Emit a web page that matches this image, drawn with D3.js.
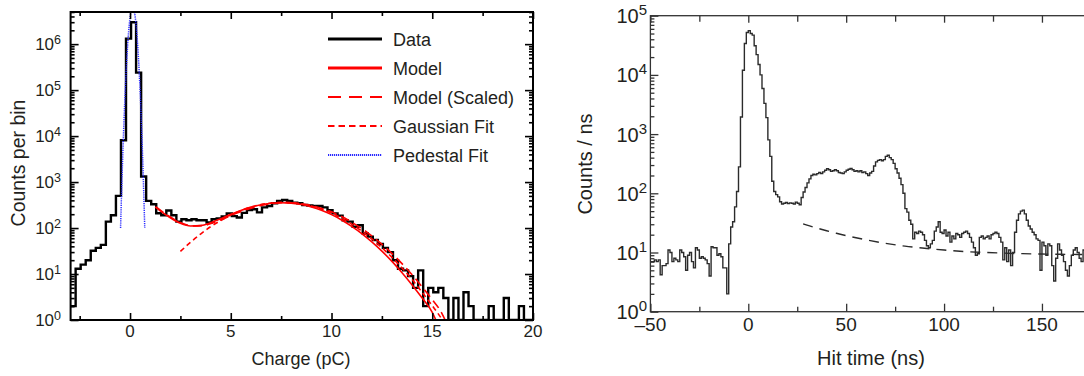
<!DOCTYPE html>
<html>
<head>
<meta charset="utf-8">
<title>Charge spectrum and hit time</title>
<script src="https://d3js.org/d3.v7.min.js"></script>
<style>
  body { margin: 0; background: #fff; }
  text { font-family: "Liberation Sans", Arial, sans-serif; fill: #231f20; }
</style>
</head>
<body>
<svg width="1084" height="376"></svg>
<script>
// ---- left panel: charge histogram (0.25 pC bins from -2.95 pC) ----
var chargeStart = -2.95, chargeBin = 0.25;
var chargeCounts = [2, 13, 16, 20, 32, 37, 43, 138, 190, 500,
  8100, 1320000, 3000000, 240000, 1320, 390, 330, 210, 190, 240,
  190, 138, 155, 148, 155, 148, 148, 132, 155, 162,
  178, 209, 182, 170, 214, 245, 257, 219, 282, 302,
  347, 389, 407, 389, 355, 347, 316, 309, 302, 302,
  282, 245, 209, 186, 148, 138, 107, 115, 76, 65,
  55, 45, 37, 30, 20, 13, 12, 9, 5, 12,
  2, 5, 4, 5, 3, 0, 3, 0, 4, 2,
  0, 0, 0, 2, 0, 0, 3, 0, 0, 2,
  0, 0];

var modelX = [1.25, 1.5, 2, 2.5, 3, 3.5, 4, 4.5, 5, 5.5, 6, 6.5, 7, 7.5, 8, 8.5, 9, 9.5,
  10, 10.5, 11, 11.5, 12, 12.5, 13, 13.5, 14, 14.5, 15, 15.5];
var modelY = [287, 236, 167, 127, 111, 113, 130, 160, 199, 242, 285, 322, 346, 356, 349, 324, 288, 244,
  196, 150, 109, 76, 50, 31.5, 18.8, 10.7, 5.8, 3.0, 1.47, 0.45];

var scaledX = [1.29, 1.55, 2.06, 2.58, 3.09, 3.61, 4.12, 4.64, 5.15, 5.67, 6.18, 6.7, 7.21, 7.73, 8.24, 8.76, 9.27, 9.79,
  10.3, 10.82, 11.33, 11.85, 12.36, 12.88, 13.39, 13.91, 14.42, 14.94, 15.45, 15.97];
var scaledY = [287, 236, 167, 127, 111, 113, 130, 160, 199, 242, 285, 322, 346, 356, 349, 324, 288, 244,
  196, 150, 109, 76, 50, 31.5, 18.8, 10.7, 5.8, 3.0, 1.47, 0.45];

var gaussX = [2.5, 3, 3.5, 4, 4.5, 5, 5.5, 6, 6.5, 7, 7.5, 8, 8.5, 9, 9.5, 10, 10.5, 11, 11.5,
  12, 12.5, 13, 13.5, 14, 14.5, 15, 15.5, 16];
var gaussY = [31, 49, 74, 107, 146, 191, 239, 285, 324, 351, 363, 357, 337, 302, 258, 211, 164, 122, 86,
  58, 37.5, 23, 13.5, 7.6, 4.0, 2.05, 1.0, 0.4];

var pedX = [-0.47, -0.42, -0.37, -0.32, -0.27, -0.22, -0.17, -0.12, -0.07, -0.02, 0.03, 0.08, 0.13,
  0.18, 0.23, 0.28, 0.33, 0.38, 0.43, 0.48, 0.53, 0.58, 0.63, 0.68, 0.73];
var pedY = [100, 589, 2950, 12600, 46800, 148000, 398000, 933000, 1860000, 3160000, 4680000, 5890000, 6310000,
  5890000, 4680000, 3160000, 1860000, 933000, 398000, 148000, 46800, 12600, 2950, 589, 100];

var chargeTicks = [0, 5, 10, 15, 20];
var chargeMinor = [-2.5, 2.5, 7.5, 12.5, 17.5];
var chargeExps = [0, 1, 2, 3, 4, 5, 6];
var legendNames = ["Data", "Model", "Model (Scaled)", "Gaussian Fit", "Pedestal Fit"];

// ---- right panel: hit time histogram (1 ns bins from -50 ns) ----
var timeStart = -50, timeBin = 1;
var timeCounts = [
  7, 7, 7.5, 7, 7.5, 4.2, 6, 6, 6.5, 11, 10, 7, 8, 7.5, 7, 11, 10, 8.5, 5, 9,
  10, 7, 5.5, 12, 11, 8, 8.5, 8, 7.5, 6.5, 4, 12.5, 12, 12, 9, 9.5, 8.5, 5.5, 5.5, 2,
  14, 27, 33, 59, 107, 280, 1950, 12000, 34000, 52000,
  56000, 50000, 47000, 31000, 22000, 15000, 10000, 5900, 3300, 1900, 800, 420, 160, 107, 95, 87, 72,
  66, 68, 70, 67, 69, 68, 66, 71, 68, 64,
  85, 105, 125, 150, 175, 200, 210, 205, 215, 225, 215, 230, 245, 260, 250, 235, 240, 250, 240, 225,
  220, 215, 230, 245, 255, 262, 250, 235, 240, 230, 240, 225, 230, 215, 200, 220, 235,
  290, 340, 360, 370, 355, 370, 420, 440, 400, 370, 320, 260, 220, 180, 140, 100, 55, 48, 35, 30,
  17, 22, 21, 23, 22, 20, 16, 13, 12, 14, 16, 23, 27, 33, 22, 21, 24, 19, 22, 15,
  19, 17, 21, 20, 18, 21, 22, 23, 21, 18, 15, 12, 9, 9.5, 18, 19, 17, 18, 19, 17,
  20, 21, 22, 21, 18, 15,
  7.5, 12, 7, 11, 6, 10, 22, 35, 45, 50, 52, 45, 35, 28, 25, 22, 20, 17, 16, 5,
  15, 13, 9, 14, 13, 6, 3.3, 8, 14, 11, 9, 7, 5, 4, 6, 9, 11, 12, 10, 8,
  7, 11, 12, 9, 8];

var bgX = [28, 30, 35, 40, 45, 50, 60, 70, 80, 90, 100, 110, 120, 130, 140, 150, 160, 170, 176];
var bgY = [30.5, 29, 25.9, 23.3, 21.1, 19.3, 16.4, 14.3, 12.8, 11.8, 11.0, 10.4, 10.05, 9.77, 9.57, 9.42, 9.32, 9.25, 9.2];

var timeTicks = [-50, 0, 50, 100, 150];
var timeMinor = [-25, 25, 75, 125, 175];
var timeExps = [0, 1, 2, 3, 4, 5];

var svg = d3.select("svg");

function histPoints(start, bin, counts) {
  var pts = counts.map(function (c, i) { return [start + i * bin, c]; });
  pts.push([start + counts.length * bin, counts[counts.length - 1]]);
  return pts;
}

function zip(xs, ys) {
  return xs.map(function (x, i) { return [x, ys[i]]; });
}

function isDecade(v) {
  var l = Math.log10(v);
  return Math.abs(l - Math.round(l)) < 1e-6;
}

// draws inward ticks on all requested sides
function ticks(g, axis, scale, values, size, transform) {
  g.append("g")
    .attr("transform", transform)
    .call(axis(scale).tickValues(values).tickSize(-size).tickFormat(""))
    .call(function (s) { s.select(".domain").remove(); });
}

function powerLabels(g, yScale, exps, x, size, supSize, dy, supDy) {
  g.selectAll("text.pow")
    .data(exps)
    .join("text")
    .attr("class", "pow")
    .attr("x", x)
    .attr("y", function (d) { return yScale(Math.pow(10, d)) + dy; })
    .attr("text-anchor", "end")
    .style("font-size", size + "px")
    .each(function (d) {
      var t = d3.select(this);
      t.append("tspan").text("10");
      t.append("tspan").attr("dy", -supDy).style("font-size", supSize + "px").text(d);
    });
}

// ================= left panel =================
var L = { x0: 70.6, x1: 533, y0: 12, y1: 320 };
var xL = d3.scaleLinear().domain([-2.95, 20]).range([L.x0, L.x1]);
var yL = d3.scaleLog().domain([1, 5e6]).range([L.y1, L.y0]);
var gl = svg.append("g");

svg.append("clipPath").attr("id", "clipL").append("rect")
  .attr("x", L.x0).attr("y", L.y0).attr("width", L.x1 - L.x0).attr("height", L.y1 - L.y0);

var lineL = d3.line()
  .x(function (d) { return xL(d[0]); })
  .y(function (d) { return yL(Math.max(d[1], 1)); });
var smoothL = d3.line()
  .curve(d3.curveMonotoneX)
  .x(function (d) { return xL(d[0]); })
  .y(function (d) { return yL(Math.max(d[1], 0.2)); });

var plotL = gl.append("g").attr("clip-path", "url(#clipL)");

plotL.append("path")
  .attr("fill", "none").attr("stroke", "#000").attr("stroke-width", 2.4)
  .attr("stroke-linejoin", "miter")
  .attr("d", lineL.curve(d3.curveStepAfter)(histPoints(chargeStart, chargeBin, chargeCounts)));

plotL.append("path")
  .attr("fill", "none").attr("stroke", "#ff0000").attr("stroke-width", 1.6)
  .attr("d", smoothL(zip(modelX, modelY)));
plotL.append("path")
  .attr("fill", "none").attr("stroke", "#ff0000").attr("stroke-width", 1.6)
  .attr("stroke-dasharray", "9,5")
  .attr("d", smoothL(zip(scaledX, scaledY)));
plotL.append("path")
  .attr("fill", "none").attr("stroke", "#ff0000").attr("stroke-width", 1.6)
  .attr("stroke-dasharray", "5,3.5")
  .attr("d", smoothL(zip(gaussX, gaussY)));
plotL.append("path")
  .attr("fill", "none").attr("stroke", "#2a2aff").attr("stroke-width", 1.5)
  .attr("stroke-dasharray", "1.2,1")
  .attr("d", smoothL(zip(pedX, pedY)));

// frame and ticks
gl.append("rect")
  .attr("x", L.x0).attr("y", L.y0).attr("width", L.x1 - L.x0).attr("height", L.y1 - L.y0)
  .attr("fill", "none").attr("stroke", "#000").attr("stroke-width", 2);

var yLTicks = yL.ticks();
var yLMajor = yLTicks.filter(isDecade);
var yLMinor = yLTicks.filter(function (v) { return !isDecade(v); });
ticks(gl, d3.axisLeft, yL, yLMajor, 8, "translate(" + L.x0 + ",0)");
ticks(gl, d3.axisLeft, yL, yLMinor, 4, "translate(" + L.x0 + ",0)");
ticks(gl, d3.axisRight, yL, yLMajor, 8, "translate(" + L.x1 + ",0)");
ticks(gl, d3.axisRight, yL, yLMinor, 4, "translate(" + L.x1 + ",0)");
ticks(gl, d3.axisBottom, xL, chargeTicks, 7, "translate(0," + L.y1 + ")");
ticks(gl, d3.axisBottom, xL, chargeMinor, 4, "translate(0," + L.y1 + ")");
ticks(gl, d3.axisTop, xL, chargeTicks, 7, "translate(0," + L.y0 + ")");
ticks(gl, d3.axisTop, xL, chargeMinor, 4, "translate(0," + L.y0 + ")");
gl.selectAll(".tick line").attr("stroke", "#000").attr("stroke-width", 1.6);

gl.selectAll("text.xlab")
  .data(chargeTicks)
  .join("text")
  .attr("class", "xlab")
  .attr("x", function (d) { return xL(d); })
  .attr("y", 337)
  .attr("text-anchor", "middle")
  .style("font-size", "17px")
  .text(function (d) { return d; });

powerLabels(gl, yL, chargeExps, 61, 17, 12.5, 6, 6);

gl.append("text")
  .attr("x", 301).attr("y", 365)
  .attr("text-anchor", "middle")
  .style("font-size", "18px")
  .text("Charge (pC)");
gl.append("text")
  .attr("transform", "translate(25,163) rotate(-90)")
  .attr("text-anchor", "middle")
  .style("font-size", "19.5px")
  .text("Counts per bin");

// legend
var legendStyles = [
  { stroke: "#000", width: 3, dash: null },
  { stroke: "#ff0000", width: 3, dash: null },
  { stroke: "#ff0000", width: 2, dash: "13,8" },
  { stroke: "#ff0000", width: 2, dash: "6.5,4" },
  { stroke: "#2a2aff", width: 2, dash: "1.2,0.8" }
];
var legendY = d3.scalePoint().domain(legendNames).range([39, 155]);
var leg = gl.append("g");
leg.selectAll("line")
  .data(legendNames)
  .join("line")
  .attr("x1", 328).attr("x2", 382)
  .attr("y1", function (d) { return legendY(d); })
  .attr("y2", function (d) { return legendY(d); })
  .attr("stroke", function (d, i) { return legendStyles[i].stroke; })
  .attr("stroke-width", function (d, i) { return legendStyles[i].width; })
  .attr("stroke-dasharray", function (d, i) { return legendStyles[i].dash; });
leg.selectAll("text")
  .data(legendNames)
  .join("text")
  .attr("x", 393)
  .attr("y", function (d) { return legendY(d) + 6.5; })
  .style("font-size", "18px")
  .text(function (d) { return d; });

// ================= right panel =================
var R = { x0: 650.4, x1: 1090.9, y0: 15.7, y1: 311.7 };
var xR = d3.scaleLinear().domain([-50, 175]).range([R.x0, R.x1]);
var yR = d3.scaleLog().domain([1, 1e5]).range([R.y1, R.y0]);
var gr = svg.append("g");

svg.append("clipPath").attr("id", "clipR").append("rect")
  .attr("x", R.x0).attr("y", R.y0).attr("width", R.x1 - R.x0).attr("height", R.y1 - R.y0);

var plotR = gr.append("g").attr("clip-path", "url(#clipR)");

plotR.append("path")
  .attr("fill", "none").attr("stroke", "#2b2b2b").attr("stroke-width", 1.4)
  .attr("d", d3.line().curve(d3.curveStepAfter)
    .x(function (d) { return xR(d[0]); })
    .y(function (d) { return yR(Math.max(d[1], 1)); })(histPoints(timeStart, timeBin, timeCounts)));

plotR.append("path")
  .attr("fill", "none").attr("stroke", "#2b2b2b").attr("stroke-width", 1.4)
  .attr("stroke-dasharray", "10,7")
  .attr("d", d3.line().curve(d3.curveMonotoneX)
    .x(function (d) { return xR(d[0]); })
    .y(function (d) { return yR(d[1]); })(zip(bgX, bgY)));

gr.append("rect")
  .attr("x", R.x0).attr("y", R.y0).attr("width", R.x1 - R.x0 + 20).attr("height", R.y1 - R.y0)
  .attr("fill", "none").attr("stroke", "#333").attr("stroke-width", 1.3);

var yRTicks = yR.ticks();
var yRMajor = yRTicks.filter(isDecade);
var yRMinor = yRTicks.filter(function (v) { return !isDecade(v); });
ticks(gr, d3.axisLeft, yR, yRMajor, 8, "translate(" + R.x0 + ",0)");
ticks(gr, d3.axisLeft, yR, yRMinor, 4, "translate(" + R.x0 + ",0)");
ticks(gr, d3.axisBottom, xR, timeTicks, 8, "translate(0," + R.y1 + ")");
ticks(gr, d3.axisBottom, xR, timeMinor, 5, "translate(0," + R.y1 + ")");
ticks(gr, d3.axisTop, xR, timeTicks, 7, "translate(0," + R.y0 + ")");
ticks(gr, d3.axisTop, xR, timeMinor, 6, "translate(0," + R.y0 + ")");
gr.selectAll(".tick line").attr("stroke", "#333").attr("stroke-width", 1.3);

gr.selectAll("text.xlab")
  .data(timeTicks)
  .join("text")
  .attr("class", "xlab")
  .attr("x", function (d) { return xR(d); })
  .attr("y", 331)
  .attr("text-anchor", "middle")
  .style("font-size", "19px")
  .text(function (d) { return d < 0 ? "\u2013" + Math.abs(d) : d; });

powerLabels(gr, yR, timeExps, 647, 20, 15, 7.5, 8);

gr.append("text")
  .attr("x", 871).attr("y", 365)
  .attr("text-anchor", "middle")
  .style("font-size", "20px")
  .text("Hit time (ns)");
gr.append("text")
  .attr("transform", "translate(592,164) rotate(-90)")
  .attr("text-anchor", "middle")
  .style("font-size", "20px")
  .text("Counts / ns");
</script>
</body>
</html>
